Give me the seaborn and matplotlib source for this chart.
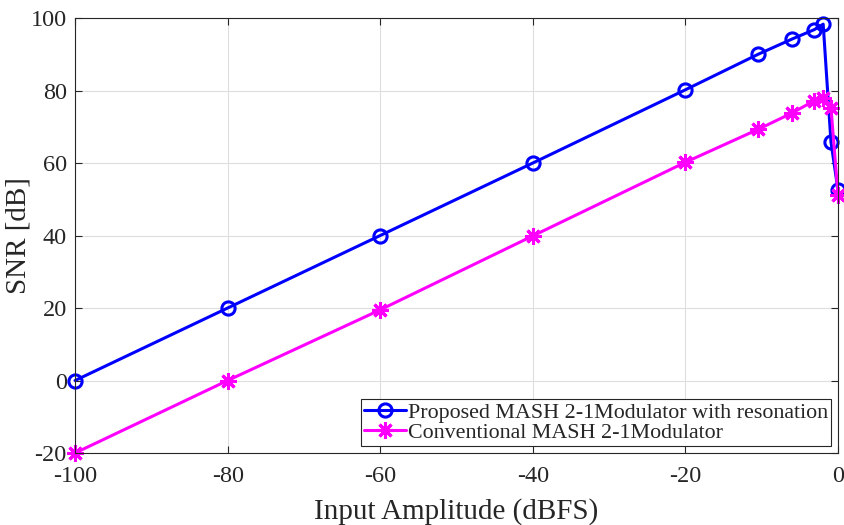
import matplotlib
matplotlib.use("Agg")
import matplotlib.pyplot as plt
import seaborn as sns
import pandas as pd

# Input amplitudes (dBFS) and measured SNR (dB)
amplitude = [-100, -80, -60, -40, -20, -10.46, -6.02, -3.10, -1.94, -0.92, 0]
snr_proposed = [0, 20, 40, 60, 80.2, 90, 94.2, 96.8, 98.3, 65.8, 52.5]
snr_conventional = [-20, 0, 19.5, 39.9, 60.2, 69.3, 73.8, 77.2, 78, 75.3, 51.2]

labels = ["Proposed MASH 2-1Modulator with resonation",
          "Conventional MASH 2-1Modulator"]
x_ticks = [-100, -80, -60, -40, -20, 0]
y_ticks = [-20, 0, 20, 40, 60, 80, 100]

sns.set_theme(style="white")
plt.rcParams["font.family"] = ["Liberation Serif", "DejaVu Serif"]
plt.rcParams["axes.unicode_minus"] = False

df = pd.concat([
    pd.DataFrame({"amp": amplitude, "snr": snr_proposed, "series": labels[0]}),
    pd.DataFrame({"amp": amplitude, "snr": snr_conventional, "series": labels[1]}),
])

fig = plt.figure(figsize=(8.45, 5.25), dpi=100)
ax = fig.add_axes([0.0888, 0.1371, 0.9029, 0.8286])

sns.lineplot(data=df[df.series == labels[0]], x="amp", y="snr", ax=ax,
             color="#0000ff", lw=2.2, marker="o", markersize=9.5,
             markerfacecolor="none", markeredgecolor="#0000ff",
             markeredgewidth=2.2, clip_on=False, label=labels[0], sort=False)
sns.lineplot(data=df[df.series == labels[1]], x="amp", y="snr", ax=ax,
             color="#ff00ff", lw=2.2, marker=(8, 2, 0), markersize=12,
             markeredgecolor="#ff00ff", markeredgewidth=2.2,
             clip_on=False, label=labels[1], sort=False)

ax.set_xlim(-100, 0)
ax.set_ylim(-20, 100)
ax.set_xticks(x_ticks)
ax.set_yticks(y_ticks)
ax.set_xticklabels([str(v) for v in x_ticks])
ax.set_yticklabels([str(v) for v in y_ticks])
ax.grid(True, color="#dedede", lw=0.8)
ax.set_axisbelow(True)
ax.tick_params(direction="in", length=5, width=0.8, colors="#262626",
               labelsize=17.5, top=True, right=True, bottom=True, left=True)
ax.tick_params(axis="x", pad=9)
ax.tick_params(axis="y", pad=6)
for s in ax.spines.values():
    s.set_visible(True)
    s.set_color("#262626")
    s.set_linewidth(0.8)

ax.set_xlabel("Input Amplitude (dBFS)", fontsize=21, color="#262626", labelpad=8)
ax.set_ylabel("SNR [dB]", fontsize=21, color="#262626")
ax.yaxis.set_label_coords(-0.057, 0.5)

leg = ax.legend(loc="lower right", fontsize=15.8, frameon=True, fancybox=False,
                edgecolor="#262626", framealpha=1, borderpad=0.15,
                handlelength=1.9, handletextpad=0.1, labelspacing=0.0,
                borderaxespad=0.3)
leg.get_frame().set_linewidth(0.8)

fig.savefig("out.png", dpi=100)
